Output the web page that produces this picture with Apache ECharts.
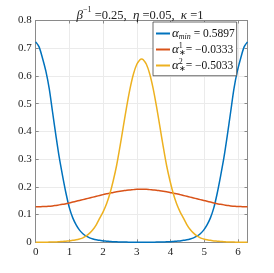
<!DOCTYPE html>
<html><head><meta charset="utf-8">
<script src="https://cdn.jsdelivr.net/npm/echarts@6/dist/echarts.min.js"></script>
<style>html,body{margin:0;padding:0;background:#fff}#c{width:274px;height:273px}</style>
</head><body><div id="c"></div>
<script>
const xs = [0,0.1,0.2,0.3,0.4,0.5,0.6,0.7,0.8,0.9,1.0,1.1,1.2,1.3,1.4,1.5,1.6,1.7,1.8,1.9,2.0,2.1,2.2,2.3,2.4,2.5,2.6,2.7,2.8,2.9,3.0,3.1,
  3.1416,
  3.1832,3.2832,3.3832,3.4832,3.5832,3.6832,3.7832,3.8832,3.9832,4.0832,4.1832,4.2832,4.3832,4.4832,4.5832,4.6832,4.7832,4.8832,4.9832,5.0832,5.1832,5.2832,5.3832,5.4832,5.5832,5.6832,5.7832,5.8832,5.9832,6.0832,6.1832,6.2832];
const alphaMin = [0.723,0.705,0.665,0.618,0.555,0.470,0.385,0.305,0.238,0.176,0.124,0.088,0.063,0.044,0.031,0.022,0.016,0.012,0.009,0.007,0.005,0.004,0.003,0.002,0.002,0.001,0.001,0.001,0,0,0,0,
  0,
  0,0,0,0,0.001,0.001,0.001,0.002,0.002,0.003,0.004,0.005,0.007,0.009,0.012,0.016,0.022,0.031,0.044,0.063,0.088,0.124,0.176,0.238,0.305,0.385,0.470,0.555,0.618,0.665,0.705,0.723];
const alphaStar1 = [0.128,0.128,0.129,0.129,0.130,0.131,0.133,0.135,0.137,0.139,0.142,0.145,0.148,0.151,0.154,0.157,0.160,0.163,0.166,0.169,0.172,0.175,0.177,0.180,0.182,0.184,0.186,0.188,0.189,0.190,0.191,0.191,
  0.191,
  0.191,0.191,0.190,0.189,0.188,0.186,0.184,0.182,0.180,0.177,0.175,0.172,0.169,0.166,0.163,0.160,0.157,0.154,0.151,0.148,0.145,0.142,0.139,0.137,0.135,0.133,0.131,0.130,0.129,0.129,0.128,0.128];
const alphaStar2 = [0,0,0,0,0.001,0.001,0.001,0.002,0.003,0.004,0.005,0.007,0.009,0.012,0.016,0.023,0.033,0.046,0.064,0.087,0.110,0.138,0.175,0.222,0.277,0.345,0.418,0.490,0.555,0.607,0.642,0.659,
  0.661,
  0.659,0.642,0.607,0.555,0.490,0.418,0.345,0.277,0.222,0.175,0.138,0.110,0.087,0.064,0.046,0.033,0.023,0.016,0.012,0.009,0.007,0.005,0.004,0.003,0.002,0.001,0.001,0.001,0,0,0,0];
const names = ['amin','a1','a2'];
const legendText = {
  amin: '{g|α}{sb|min}{t| = 0.5897}',
  a1: '{g|α}{sb0|∗}{sp|1}{t| = −0.0333}',
  a2: '{g|α}{sb0|∗}{sp|2}{t| = −0.5033}'
};
const colors = ['#0072BD','#D95319','#EDB120'];
const F = 'Liberation Serif';
const axisCol = '#8a8a8a';
const zip = a => xs.map((x,i)=>[x,a[i]]);
const chart = echarts.init(document.getElementById('c'));
chart.setOption({
  animation:false,
  textStyle:{fontFamily:F},
  title:{
    text:'{g|β}{sp|−1}{t| =0.25,  }{g|η}{t| =0.05,  }{g|κ}{t| =1}',
    left:135, textAlign:'center', top:1,
    textStyle:{fontWeight:'normal',rich:{
      g:{fontFamily:F,fontStyle:'italic',fontWeight:'normal',fontSize:13,color:'#222',verticalAlign:'bottom',lineHeight:16},
      t:{fontFamily:F,fontWeight:'normal',fontSize:12.5,color:'#222',verticalAlign:'bottom',lineHeight:16},
      sp:{fontFamily:F,fontWeight:'normal',fontSize:8,color:'#222',verticalAlign:'top',lineHeight:16,padding:[0,0,6,0]}
    }}
  },
  grid:{left:35.7,right:26.5,top:20.5,bottom:30.7},
  legend:{
    orient:'vertical', left:153, top:22,
    backgroundColor:'#fff', borderColor:'#444', borderWidth:0.8, borderRadius:0,
    padding:[5,2,3,3], itemGap:1.5, itemWidth:14, itemHeight:2, icon:'rect',
    data:names,
    formatter:n=>legendText[n],
    textStyle:{padding:[0,0,0,-3],rich:{
      g:{fontFamily:F,fontStyle:'italic',fontSize:13,color:'#111',lineHeight:14.5},
      t:{fontFamily:F,fontSize:11.5,color:'#111',lineHeight:14.5},
      sb:{fontFamily:F,fontStyle:'italic',fontSize:8,color:'#111',verticalAlign:'bottom',lineHeight:14.5,padding:[4,0,0,0]},
      sb0:{fontFamily:F,fontSize:8,color:'#111',verticalAlign:'bottom',lineHeight:14.5,padding:[4,0,0,0],width:0},
      sp:{fontFamily:F,fontSize:8,color:'#111',verticalAlign:'top',lineHeight:14.5,padding:[0,0,4,0]}
    }}
  },
  xAxis:[{
    type:'value',min:0,max:6.2832,interval:1,
    axisLine:{show:true,onZero:false,lineStyle:{color:axisCol,width:1}},
    axisTick:{show:true,inside:true,length:3,lineStyle:{color:axisCol}},
    axisLabel:{fontFamily:F,fontSize:11,color:'#222',margin:4,showMaxLabel:false},
    splitLine:{show:true,lineStyle:{color:'#ebebeb',width:1}}
  },{
    type:'value',min:0,max:6.2832,interval:1,position:'top',
    axisLine:{show:true,onZero:false,lineStyle:{color:axisCol,width:1}},
    axisTick:{show:true,inside:true,length:3,lineStyle:{color:axisCol}},
    axisLabel:{show:false},splitLine:{show:false}
  }],
  yAxis:[{
    type:'value',min:0,max:0.8,interval:0.1,
    axisLine:{show:true,onZero:false,lineStyle:{color:axisCol,width:1}},
    axisTick:{show:true,inside:true,length:3,lineStyle:{color:axisCol}},
    axisLabel:{fontFamily:F,fontSize:11,color:'#222',margin:4},
    splitLine:{show:true,lineStyle:{color:'#ebebeb',width:1}}
  },{
    type:'value',min:0,max:0.8,interval:0.1,position:'right',
    axisLine:{show:true,onZero:false,lineStyle:{color:axisCol,width:1}},
    axisTick:{show:true,inside:true,length:3,lineStyle:{color:axisCol}},
    axisLabel:{show:false},splitLine:{show:false}
  }],
  series:[alphaMin,alphaStar1,alphaStar2].map((a,i)=>({
    name:names[i],type:'line',data:zip(a),smooth:0.3,symbol:'none',
    color:colors[i],lineStyle:{width:1.5,color:colors[i]},z:3
  }))
});
</script></body></html>
